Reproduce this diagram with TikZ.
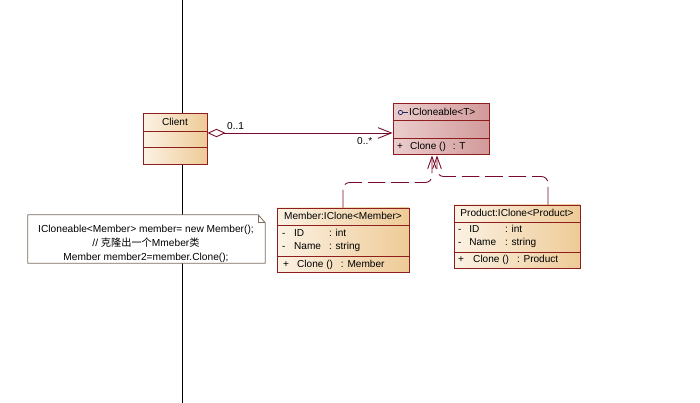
\documentclass[tikz,border=0pt]{standalone}
\usepackage{fontspec}
\setmainfont{Liberation Sans}
\newfontfamily\cjk{Noto Sans CJK SC}
\usetikzlibrary{arrows.meta,fit,calc}
\definecolor{umlborder}{HTML}{8E1E1E}
\definecolor{umlline}{HTML}{7A0A2A}
\definecolor{classlight}{HTML}{FBF2E4}
\definecolor{classtan}{HTML}{EECB97}
\definecolor{ifacelight}{HTML}{EBCDCD}
\definecolor{ifacerose}{HTML}{D29A9A}
\definecolor{notegray}{HTML}{7C6C5C}
\definecolor{icondark}{HTML}{1E2A6A}
\tikzset{
  >=Latex,
  classbox/.style={rectangle, draw=umlborder, line width=0.85pt, inner sep=0pt,
    left color=classlight, right color=classtan},
  ifacebox/.style={classbox, left color=ifacelight, right color=ifacerose},
  notebox/.style={rectangle, draw=none, inner sep=0pt},
  noteline/.style={draw=notegray, line width=0.7pt, fill=white},
  sepline/.style={draw=umlborder, line width=0.85pt},
  umltxt/.style={font=\fontsize{8.6}{10}\selectfont, text=black, inner sep=0pt, anchor=base west},
  umlmid/.style={umltxt, anchor=base},
  notetxt/.style={font=\fontsize{8.7}{11.9}\selectfont, text=black, inner sep=0pt, align=center},
  assoc/.style={{Diamond[open, fill=white, length=0.54cm, width=0.25cm]}-{Straight Barb[length=0.4cm, width=0.32cm]},
    draw=umlline, line width=0.75pt},
  realize/.style={-{Straight Barb[length=0.36cm, width=0.26cm]}, draw=umlline, line width=0.75pt,
    dash pattern=on 15pt off 5pt, rounded corners=0.2cm},
  notelink/.style={draw=umlline, line width=0.65pt, dash pattern=on 2.2pt off 2.2pt},
  lifeline/.style={draw=black, line width=0.65pt}
}
\newcommand{\umlsep}[2]{\draw[sepline] (#1.west |- 0,#2) -- (#1.east |- 0,#2);}
\newcommand{\umlrow}[5]{\makebox[#1][l]{#3}\makebox[#2][l]{#4}#5}

\begin{document}
\begin{tikzpicture}[x=0.03cm,y=-0.03cm]
\useasboundingbox (0,0) rectangle (700,403);
\fill[white] (0,0) rectangle (700,403);
\draw[lifeline] (182,0) -- (182,403);

\node[classbox, fit={(143,114) (207,165)}] (client) {};
\node[ifacebox, fit={(393,104) (489,155)}] (iclone) {};
\node[classbox, fit={(277,208) (409,272)}] (member) {};
\node[classbox, fit={(454,205) (580,268)}] (product) {};
\umlsep{client}{132}
\umlsep{client}{148}
\umlsep{iclone}{121}
\umlsep{iclone}{139}
\umlsep{member}{225}
\umlsep{member}{256}
\umlsep{product}{222}
\umlsep{product}{252}

\node[umlmid] (clientname) at (175,126) {Client};

\draw[icondark, line width=0.6pt] (400.5,112.5) circle[radius=0.065cm];
\draw[icondark, line width=0.6pt] (402.7,112.5) -- (408,112.5);
\node[umltxt] (iclonename) at (409,116) {ICloneable<T>};
\node[umltxt] (iclonerow) at (397,150) {\umlrow{11pt}{36.5pt}{+}{Clone ()}{: T}};

\node[umlmid] (membername) at (343,220) {Member:IClone<Member>};
\node[umltxt] (memberid) at (282,236.5) {\umlrow{10.2pt}{29.8pt}{-}{ID}{: int}};
\node[umltxt] (membernm) at (282,250) {\umlrow{10.2pt}{29.8pt}{-}{Name}{: string}};
\node[umltxt] (memberop) at (283,267.5) {\umlrow{11.9pt}{37.4pt}{+}{Clone ()}{: Member}};

\node[umlmid] (productname) at (517,217) {Product:IClone<Product>};
\node[umltxt] (productid) at (458,233) {\umlrow{9.4pt}{30.6pt}{-}{ID}{: int}};
\node[umltxt] (productnm) at (458,246) {\umlrow{9.4pt}{30.6pt}{-}{Name}{: string}};
\node[umltxt] (productop) at (458,263) {\umlrow{12.8pt}{37.4pt}{+}{Clone ()}{: Product}};

\node[notebox, fit={(28,215) (265,263)}] (note) {};
\draw[noteline] (note.north west) -- ($(note.north east)+(-7,0)$) -- ($(note.north east)+(0,8)$)
  -- (note.south east) -- (note.south west) -- cycle;
\draw[noteline, fill=none] ($(note.north east)+(-7,0)$) -- ($(note.north east)+(-7,8)$) -- ($(note.north east)+(0,8)$);
\node[notetxt] (notetext) at (146,243.5) {ICloneable<Member> member= new Member();\\
  // {\cjk 克隆出一个}Mmeber{\cjk 类}\\
  Member member2=member.Clone();};

\draw[notelink] ($(client.south)+(-3,0)$) -- ($(client.south)+(-3,0)$ |- note.north);
\draw[assoc] (client.east |- 0,133) -- (iclone.west |- 0,133);
\node[umltxt] (multclient) at (227,130) {0..1};
\node[umltxt] (multclone) at (357,145) {0..*};

\draw[realize] (member.north) |- ($(iclone.south)+(-9,27)$) -- ($(iclone.south)+(-9,0)$);
\draw[realize] ($(product.north)+(31,0)$) |- ($(iclone.south)+(-4,21)$) -- ($(iclone.south)+(-4,0)$);
\end{tikzpicture}
\end{document}
